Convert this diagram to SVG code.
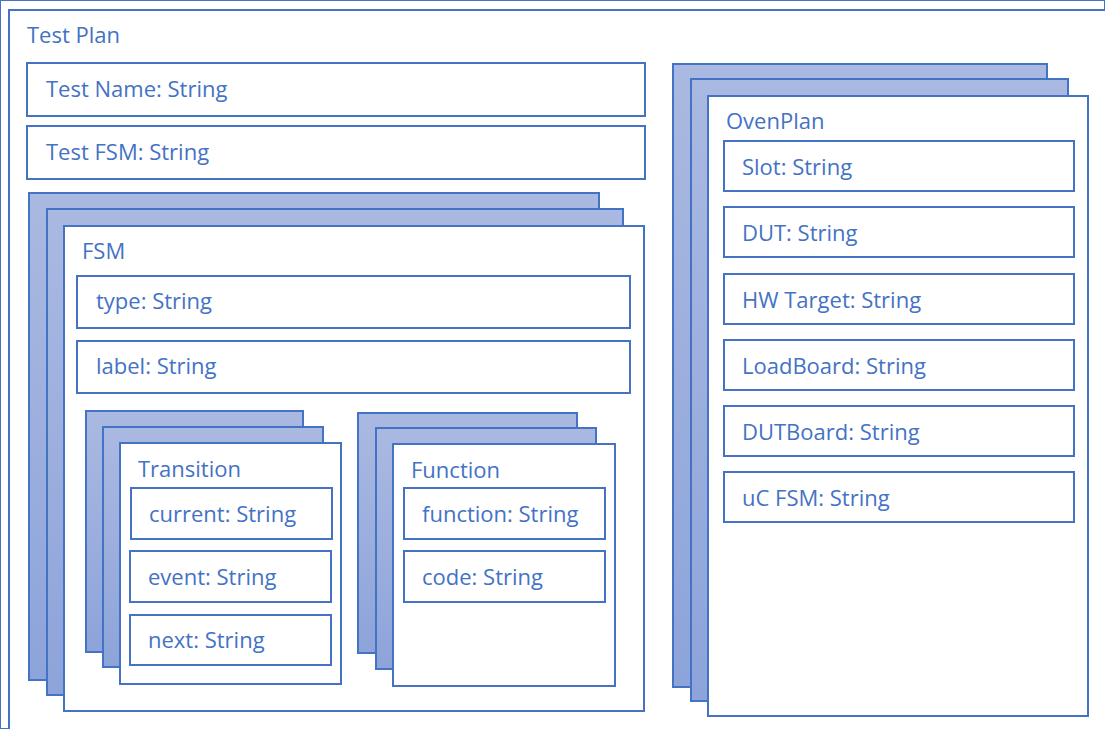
<svg xmlns="http://www.w3.org/2000/svg" width="1105" height="729" viewBox="0 0 1105 729">
  <defs>
    <linearGradient id="stackFill" x1="0" y1="0" x2="0" y2="1">
      <stop offset="0" stop-color="#AAB9E1"/>
      <stop offset="1" stop-color="#8DA4DA"/>
    </linearGradient>
    <style>
      rect { stroke: #4472C4; stroke-width: 2; }
      .frame { fill: #FFFFFF; }
      .back { fill: url(#stackFill); }
      text { font-family: "Open Sans", "Liberation Sans", sans-serif; font-size: 22px; fill: #4472C4; }
    </style>
  </defs>

  <rect x="0" y="0" width="1105" height="729" fill="#FFFFFF" stroke="none"/>

  <!-- Outer container, open past the right and bottom edges -->
  <g id="test-plan">
    <rect class="frame" x="9" y="10" width="1200" height="800"/>
    <text x="27" y="43">Test Plan</text>
  </g>

  <g id="test-name">
    <rect class="frame" x="27" y="63" width="618" height="53"/>
    <text x="46" y="97">Test Name: String</text>
  </g>

  <g id="test-fsm">
    <rect class="frame" x="27" y="126" width="618" height="53"/>
    <text x="46" y="160">Test FSM: String</text>
  </g>

  <!-- FSM stack -->
  <g id="fsm">
    <rect class="back" x="29" y="193" width="570" height="487"/>
    <rect class="back" x="47" y="209" width="576" height="486"/>
    <rect class="frame" x="64" y="226" width="580" height="485"/>
    <text x="82" y="259">FSM</text>
  </g>

  <g id="fsm-type">
    <rect class="frame" x="77" y="276" width="553" height="52"/>
    <text x="96" y="309">type: String</text>
  </g>

  <g id="fsm-label">
    <rect class="frame" x="77" y="341" width="553" height="52"/>
    <text x="96" y="374">label: String</text>
  </g>

  <!-- Transition stack -->
  <g id="transition">
    <rect class="back" x="86" y="411" width="217" height="241"/>
    <rect class="back" x="103" y="427" width="220" height="240"/>
    <rect class="frame" x="120" y="443" width="221" height="241"/>
    <text x="138" y="477">Transition</text>
  </g>

  <g id="transition-current">
    <rect class="frame" x="131" y="488" width="201" height="51"/>
    <text x="149" y="522">current: String</text>
  </g>

  <g id="transition-event">
    <rect class="frame" x="130" y="551" width="201" height="51"/>
    <text x="148" y="585">event: String</text>
  </g>

  <g id="transition-next">
    <rect class="frame" x="130" y="615" width="201" height="50"/>
    <text x="148" y="648">next: String</text>
  </g>

  <!-- Function stack -->
  <g id="function">
    <rect class="back" x="358" y="413" width="219" height="240"/>
    <rect class="back" x="376" y="428" width="220" height="241"/>
    <rect class="frame" x="393" y="444" width="222" height="242"/>
    <text x="411" y="478">Function</text>
  </g>

  <g id="function-function">
    <rect class="frame" x="404" y="488" width="201" height="51"/>
    <text x="422" y="522">function: String</text>
  </g>

  <g id="function-code">
    <rect class="frame" x="404" y="551" width="201" height="51"/>
    <text x="422" y="585">code: String</text>
  </g>

  <!-- OvenPlan stack -->
  <g id="oven-plan">
    <rect class="back" x="673" y="64" width="374" height="623"/>
    <rect class="back" x="691" y="79" width="377" height="622"/>
    <rect class="frame" x="708" y="96" width="380" height="620"/>
    <text x="726" y="129">OvenPlan</text>
  </g>

  <g id="oven-slot">
    <rect class="frame" x="724" y="141" width="350" height="50"/>
    <text x="742" y="175">Slot: String</text>
  </g>

  <g id="oven-dut">
    <rect class="frame" x="724" y="207" width="350" height="50"/>
    <text x="742" y="241">DUT: String</text>
  </g>

  <g id="oven-hw-target">
    <rect class="frame" x="724" y="274" width="350" height="50"/>
    <text x="742" y="308">HW Target: String</text>
  </g>

  <g id="oven-loadboard">
    <rect class="frame" x="724" y="340" width="350" height="50"/>
    <text x="742" y="374">LoadBoard: String</text>
  </g>

  <g id="oven-dutboard">
    <rect class="frame" x="724" y="406" width="350" height="50"/>
    <text x="742" y="440">DUTBoard: String</text>
  </g>

  <g id="oven-uc-fsm">
    <rect class="frame" x="724" y="472" width="350" height="50"/>
    <text x="742" y="506">uC FSM: String</text>
  </g>

  <!-- No connectors in this diagram -->
  <g id="connectors"/>
</svg>
